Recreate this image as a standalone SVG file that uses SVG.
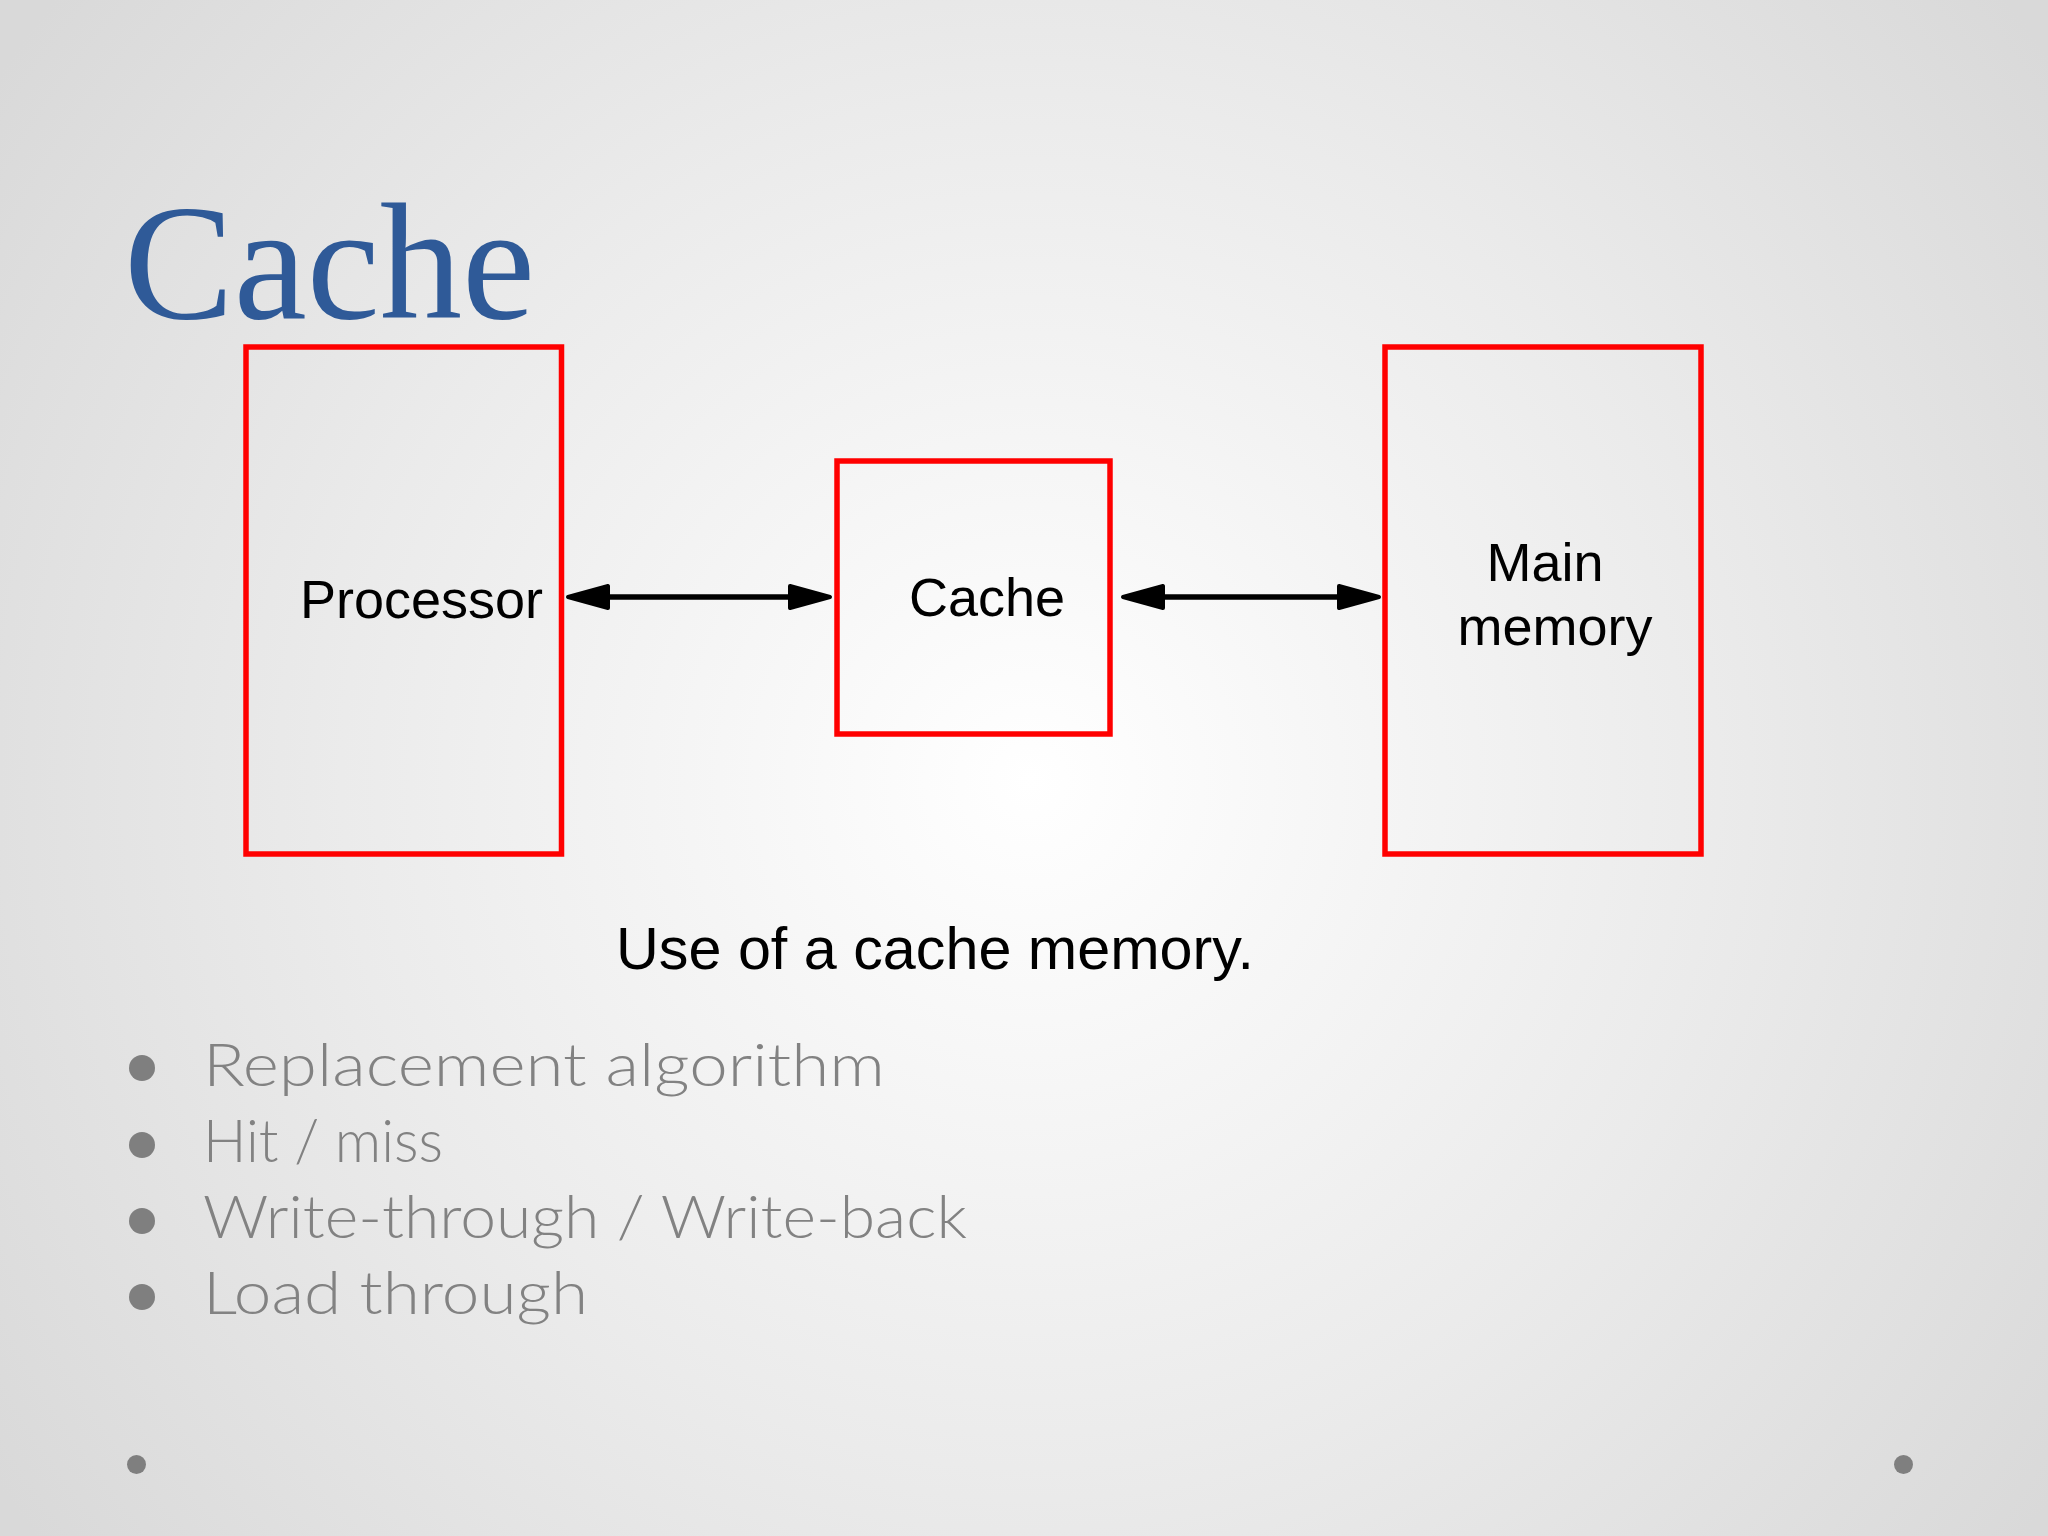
<svg xmlns="http://www.w3.org/2000/svg" width="2048" height="1536" viewBox="0 0 2048 1536">
<defs>
<radialGradient id="bg" gradientUnits="userSpaceOnUse" cx="1030" cy="780" r="1250">
<stop offset="0" stop-color="#ffffff"/>
<stop offset="0.55" stop-color="#ebebeb"/>
<stop offset="1" stop-color="#d9d9d9"/>
</radialGradient>
<marker id="head" markerUnits="userSpaceOnUse" markerWidth="50" markerHeight="32" refX="2" refY="13" orient="auto-start-reverse" overflow="visible">
<path d="M2,2 L42,13 L2,24 Z" fill="#000" stroke="#000" stroke-width="4" stroke-linejoin="round"/>
</marker>
</defs>
<style>
.box{fill:none;stroke:#ff0000;stroke-width:5.5}
.lbl{font-family:"Liberation Sans",Arial,sans-serif;font-size:54px;fill:#000}
.bul{font-family:Lato,"Liberation Sans",sans-serif;font-size:60px;font-weight:300;fill:#828282}
.dot{fill:#7f7f7f}
.conn{stroke:#000;stroke-width:5.5;fill:none;marker-start:url(#head);marker-end:url(#head)}
</style>
<rect x="0" y="0" width="2048" height="1536" fill="url(#bg)"/>
<text x="124" y="318" font-family="'Liberation Serif','Times New Roman',serif" font-size="166" fill="#2f5a98" textLength="411" lengthAdjust="spacingAndGlyphs">Cache</text>
<g id="processor">
<rect class="box" x="246" y="347" width="315.5" height="507"/>
<text class="lbl" x="300" y="618">Processor</text>
</g>
<g id="cache">
<rect class="box" x="837" y="461" width="273" height="273"/>
<text class="lbl" x="909" y="616">Cache</text>
</g>
<g id="main-memory">
<rect class="box" x="1385" y="347" width="316" height="507"/>
<text class="lbl" x="1545" y="581" text-anchor="middle">Main</text>
<text class="lbl" x="1555" y="645" text-anchor="middle">memory</text>
</g>
<g id="connectors">
<line class="conn" x1="608" y1="597" x2="790" y2="597"/>
<line class="conn" x1="1163" y1="597" x2="1339" y2="597"/>
</g>
<text x="616" y="969" font-family="'Liberation Sans',Arial,sans-serif" font-size="59" fill="#000" textLength="638" lengthAdjust="spacingAndGlyphs">Use of a cache memory.</text>
<g id="bullets">
<circle class="dot" cx="142" cy="1068" r="13"/>
<circle class="dot" cx="142" cy="1145" r="13"/>
<circle class="dot" cx="142" cy="1221" r="13"/>
<circle class="dot" cx="142" cy="1297" r="13"/>
<text class="bul" x="203" y="1086" textLength="682" lengthAdjust="spacingAndGlyphs">Replacement algorithm</text>
<text class="bul" x="203" y="1162" textLength="240" lengthAdjust="spacingAndGlyphs">Hit / miss</text>
<text class="bul" x="203" y="1238" textLength="764" lengthAdjust="spacingAndGlyphs">Write-through / Write-back</text>
<text class="bul" x="203" y="1314" textLength="385" lengthAdjust="spacingAndGlyphs">Load through</text>
</g>
<circle class="dot" cx="136.5" cy="1464.5" r="9.5"/>
<circle class="dot" cx="1903.5" cy="1464.5" r="9.5"/>
</svg>
